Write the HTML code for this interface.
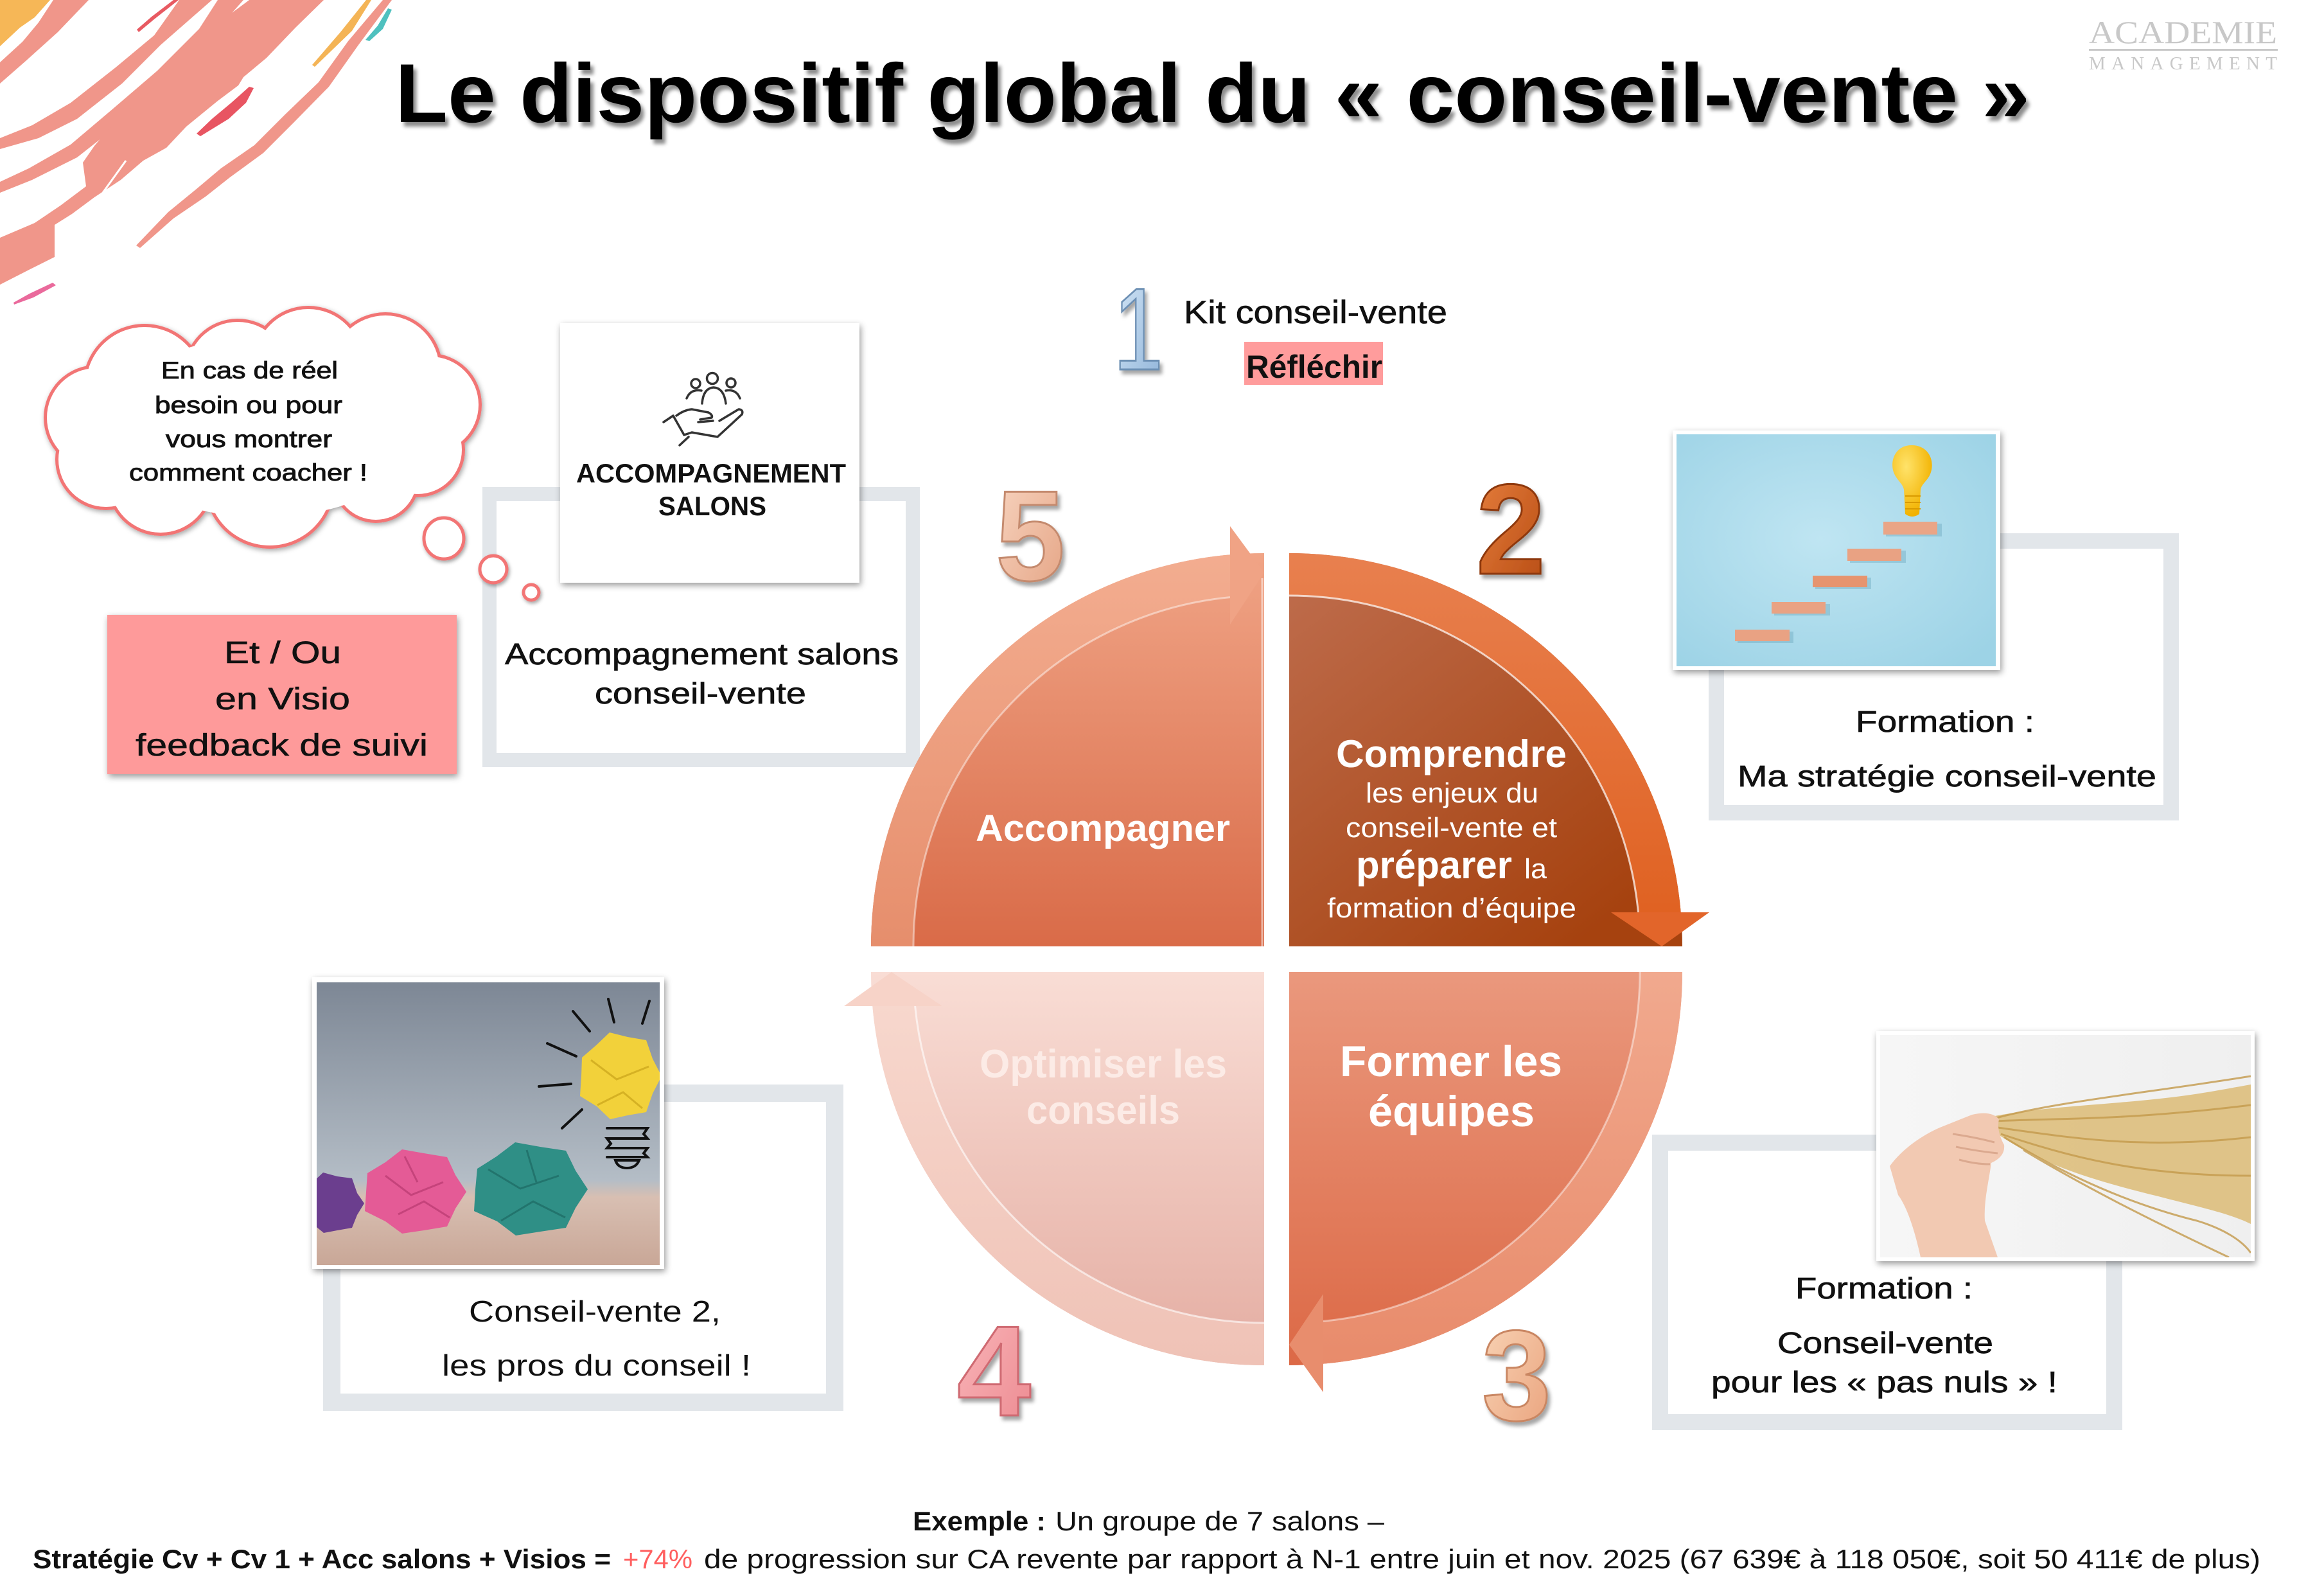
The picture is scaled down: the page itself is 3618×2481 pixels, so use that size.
<!DOCTYPE html>
<html><head><meta charset="utf-8">
<style>
html,body{margin:0;padding:0;background:#fff;}
svg{display:block;}
text{font-family:"Liberation Sans",sans-serif;}
</style></head><body>
<svg xmlns="http://www.w3.org/2000/svg" width="3618" height="2481" viewBox="0 0 3618 2481">
<defs>
  <filter id="tshadow" x="-5%" y="-20%" width="110%" height="150%"><feDropShadow dx="5" dy="7" stdDeviation="3" flood-color="#000" flood-opacity="0.45"/></filter>
  <filter id="boxsh" x="-10%" y="-10%" width="120%" height="125%"><feDropShadow dx="2" dy="4" stdDeviation="5" flood-color="#000" flood-opacity="0.4"/></filter>
  <filter id="cloudsh" x="-10%" y="-10%" width="120%" height="125%"><feDropShadow dx="2" dy="3" stdDeviation="4" flood-color="#000" flood-opacity="0.35"/></filter>
  <filter id="bubsh" x="-50%" y="-50%" width="200%" height="200%"><feDropShadow dx="2" dy="3" stdDeviation="3" flood-color="#000" flood-opacity="0.35"/></filter>
  <filter id="numsh" x="-20%" y="-20%" width="150%" height="150%"><feDropShadow dx="4" dy="6" stdDeviation="3" flood-color="#000" flood-opacity="0.35"/></filter>

  <linearGradient id="gTL" gradientUnits="userSpaceOnUse" x1="0" y1="861" x2="0" y2="1473"><stop offset="0" stop-color="#f0a486"/><stop offset="1" stop-color="#d96b48"/></linearGradient>
  <linearGradient id="gTLb" gradientUnits="userSpaceOnUse" x1="0" y1="861" x2="0" y2="1473"><stop offset="0" stop-color="#f3ad90"/><stop offset="1" stop-color="#e68e6c"/></linearGradient>
  <linearGradient id="gTR" gradientUnits="userSpaceOnUse" x1="2007" y1="900" x2="2450" y2="1473"><stop offset="0" stop-color="#be6c4c"/><stop offset="1" stop-color="#a6420f"/></linearGradient>
  <linearGradient id="gTRb" gradientUnits="userSpaceOnUse" x1="0" y1="861" x2="0" y2="1473"><stop offset="0" stop-color="#e8804f"/><stop offset="1" stop-color="#df5f1e"/></linearGradient>
  <linearGradient id="gBR" gradientUnits="userSpaceOnUse" x1="0" y1="1513" x2="0" y2="2125"><stop offset="0" stop-color="#ea987d"/><stop offset="1" stop-color="#dc6946"/></linearGradient>
  <linearGradient id="gBRb" gradientUnits="userSpaceOnUse" x1="0" y1="1513" x2="0" y2="2125"><stop offset="0" stop-color="#f1a98e"/><stop offset="1" stop-color="#e88b6b"/></linearGradient>
  <linearGradient id="gBL" gradientUnits="userSpaceOnUse" x1="0" y1="1513" x2="0" y2="2125"><stop offset="0" stop-color="#f9ddd5"/><stop offset="1" stop-color="#e4ada2"/></linearGradient>
  <linearGradient id="gBLb" gradientUnits="userSpaceOnUse" x1="0" y1="1513" x2="0" y2="2125"><stop offset="0" stop-color="#f8d9cf"/><stop offset="1" stop-color="#efc2b6"/></linearGradient>

  <linearGradient id="n1" x1="0" y1="0" x2="1" y2="1"><stop offset="0" stop-color="#d8e9f8"/><stop offset="1" stop-color="#8db2d8"/></linearGradient>
  <linearGradient id="n2" x1="0" y1="0" x2="1" y2="1"><stop offset="0" stop-color="#e8803e"/><stop offset="1" stop-color="#b54a12"/></linearGradient>
  <linearGradient id="n3" x1="0" y1="0" x2="1" y2="1"><stop offset="0" stop-color="#f9d6b8"/><stop offset="1" stop-color="#e9a07a"/></linearGradient>
  <linearGradient id="n4" x1="0" y1="0" x2="1" y2="1"><stop offset="0" stop-color="#fab8bb"/><stop offset="1" stop-color="#ec8990"/></linearGradient>
  <linearGradient id="n5" x1="0" y1="0" x2="1" y2="1"><stop offset="0" stop-color="#f8d6c2"/><stop offset="1" stop-color="#e4a282"/></linearGradient>

  <radialGradient id="sky" cx="0.45" cy="0.45" r="0.7"><stop offset="0" stop-color="#bfe5f2"/><stop offset="1" stop-color="#9dd3e6"/></radialGradient>
  <linearGradient id="paperbg" x1="0" y1="0" x2="0" y2="1"><stop offset="0" stop-color="#7d8795"/><stop offset="0.7" stop-color="#b4bdc6"/><stop offset="0.76" stop-color="#d8bfb2"/><stop offset="1" stop-color="#c9a797"/></linearGradient>
  <radialGradient id="bulbg" cx="0.35" cy="0.3" r="0.7"><stop offset="0" stop-color="#ffe36a"/><stop offset="1" stop-color="#f2b200"/></radialGradient>
  <linearGradient id="hairbg" x1="0" y1="0" x2="1" y2="0"><stop offset="0" stop-color="#f6f6f6"/><stop offset="1" stop-color="#efefef"/></linearGradient>

  <clipPath id="cpStair"><rect x="2610" y="676" width="497" height="361"/></clipPath>
  <clipPath id="cpPaper"><rect x="493" y="1529" width="534" height="440"/></clipPath>
  <clipPath id="cpHair"><rect x="2927" y="1611" width="577" height="346"/></clipPath>
</defs>

<rect width="3618" height="2481" fill="#fff"/>

<!-- decorative brush strokes -->
<g>
  <polygon fill="#f6b757" points="0,0 78,0 54,27 31,43 0,72"/>
  <polygon fill="#f0968a" points="83,0 138,0 90,50 40,95 0,130 0,97 35,65 60,35"/>
  <polygon fill="#f0968a" points="279,0 330,0 250,70 190,130 120,185 60,215 0,232 0,215 50,195 110,160 180,105 240,55"/>
  <polygon fill="#f0968a" points="339,0 379,0 330,55 260,125 190,190 120,245 50,280 0,300 0,283 45,262 110,225 175,170 245,110 310,45"/>
  <polygon fill="#f0968a" points="388,0 504,0 460,43 415,90 379,120 371,133 339,157 290,197 259,230 223,250 188,280 147,307 112,333 85,350 85,400 45,420 0,443 0,370 54,347 94,320 134,290 129,253 147,227 170,200 205,167 250,127 263,107 321,57 330,43"/>
  <polyline fill="none" stroke="#fff" stroke-width="3" points="196,250 160,300 125,345"/>
  <polygon fill="#f0968a" points="596,0 610,0 558,70 512,135 458,190 410,238 358,276 320,306 270,340 218,386 212,382 262,330 306,294 344,262 396,226 444,178 496,128 542,64"/>
  <polygon fill="#e85a62" points="270,0 278,0 240,30 216,50 213,46 236,26"/>
  <polygon fill="#e85562" points="388,135 395,137 383,160 356,185 312,212 306,208 330,185 360,160"/>
  <polygon fill="#f4b456" points="570,0 578,0 548,48 490,104 486,101 530,50"/>
  <polygon fill="#4fc1bf" points="604,13 610,15 596,45 575,64 569,62 588,40"/>
  <polygon fill="#ea6a9c" points="82,440 87,444 52,463 22,474 21,471 46,457"/>
</g>

<!-- title -->
<text x="615" y="190" font-size="130" font-weight="bold" fill="#000" textLength="2545" lengthAdjust="spacingAndGlyphs" filter="url(#tshadow)">Le dispositif global du « conseil-vente »</text>

<!-- logo -->
<g fill="#c8c8c8">
  <text x="3252" y="67" font-size="50" textLength="293" lengthAdjust="spacingAndGlyphs" style="font-family:'Liberation Serif',serif">ACADEMIE</text>
  <rect x="3252" y="76" width="294" height="3"/>
  <text x="3252" y="108" font-size="29" textLength="293" lengthAdjust="spacing" style="font-family:'Liberation Serif',serif">MANAGEMENT</text>
</g>

<!-- accompagnement frame (drawn before bubbles) -->
<rect x="762" y="769" width="659" height="414" fill="#fff" stroke="#e2e6ea" stroke-width="22"/>

<!-- cloud -->
<g filter="url(#cloudsh)">
  <g fill="#f27474">
    <circle cx="225" cy="600" r="96"/><circle cx="370" cy="580" r="84"/><circle cx="480" cy="565" r="89"/>
    <circle cx="600" cy="575" r="89"/><circle cx="670" cy="630" r="80"/><circle cx="650" cy="700" r="74"/>
    <circle cx="585" cy="745" r="69"/><circle cx="420" cy="752" r="102"/><circle cx="250" cy="750" r="84"/>
    <circle cx="165" cy="715" r="79"/><circle cx="150" cy="650" r="82"/>
  </g>
  <g fill="#fff">
    <circle cx="225" cy="600" r="91"/><circle cx="370" cy="580" r="79"/><circle cx="480" cy="565" r="84"/>
    <circle cx="600" cy="575" r="84"/><circle cx="670" cy="630" r="75"/><circle cx="650" cy="700" r="69"/>
    <circle cx="585" cy="745" r="64"/><circle cx="420" cy="752" r="97"/><circle cx="250" cy="750" r="79"/>
    <circle cx="165" cy="715" r="74"/><circle cx="150" cy="650" r="77"/>
    <ellipse cx="410" cy="665" rx="250" ry="140"/>
  </g>
</g>
<g filter="url(#bubsh)" fill="#fff" stroke="#f27474" stroke-width="5">
  <ellipse cx="691" cy="838" rx="31" ry="32"/>
  <circle cx="768" cy="886" r="21"/>
  <circle cx="827" cy="922" r="12"/>
</g>
<g font-size="37" fill="#111" stroke="#111" stroke-width="0.9">
  <text x="251" y="589" textLength="275" lengthAdjust="spacingAndGlyphs">En cas de réel</text>
  <text x="241" y="643" textLength="292" lengthAdjust="spacingAndGlyphs">besoin ou pour</text>
  <text x="258" y="696" textLength="259" lengthAdjust="spacingAndGlyphs">vous montrer</text>
  <text x="201" y="748" textLength="371" lengthAdjust="spacingAndGlyphs">comment coacher !</text>
</g>

<!-- pink box -->
<rect x="167" y="957" width="544" height="248" fill="#fe9a9a" filter="url(#boxsh)"/>
<g font-size="48" fill="#111" stroke="#111" stroke-width="0.6">
  <text x="349" y="1032" textLength="182" lengthAdjust="spacingAndGlyphs">Et / Ou</text>
  <text x="335" y="1104" textLength="210" lengthAdjust="spacingAndGlyphs">en Visio</text>
  <text x="211" y="1176" textLength="455" lengthAdjust="spacingAndGlyphs">feedback de suivi</text>
</g>

<!-- accompagnement box -->
<rect x="872" y="503" width="466" height="404" fill="#fff" filter="url(#boxsh)"/>
<g fill="none" stroke="#333" stroke-width="3.5" stroke-linecap="round" stroke-linejoin="round">
  <circle cx="1083" cy="597" r="7"/><circle cx="1109" cy="589" r="8.5"/><circle cx="1138" cy="596" r="7"/>
  <path d="M1069 620 Q1075 605 1092 608"/><path d="M1152 620 Q1146 605 1130 608"/>
  <path d="M1093 628 Q1095 604 1111 603 Q1127 604 1130 628"/>
  <path d="M1033 657 L1048 647 L1065 677"/><path d="M1072 680 L1058 693"/>
  <path d="M1053 647 Q1065 638 1077 637 L1103 642 Q1110 646 1108 650 L1090 653"/>
  <path d="M1087 657 L1110 655"/>
  <path d="M1120 655 L1150 637 Q1158 638 1155 645 L1117 680 L1077 673 L1065 677"/>
</g>
<g font-size="42" font-weight="bold" fill="#111">
  <text x="897" y="751" textLength="420" lengthAdjust="spacingAndGlyphs">ACCOMPAGNEMENT</text>
  <text x="1025" y="802" textLength="168" lengthAdjust="spacingAndGlyphs">SALONS</text>
</g>
<g font-size="46" fill="#111" stroke="#111" stroke-width="0.7">
  <text x="786" y="1034" textLength="613" lengthAdjust="spacingAndGlyphs">Accompagnement salons</text>
  <text x="926" y="1095" textLength="329" lengthAdjust="spacingAndGlyphs">conseil-vente</text>
</g>

<!-- Kit conseil-vente -->
<text x="1733" y="575" font-size="182" fill="url(#n1)" stroke="#6d90b4" stroke-width="3" textLength="78" lengthAdjust="spacingAndGlyphs" filter="url(#numsh)">1</text>
<text x="1843" y="503" font-size="50" fill="#111" stroke="#111" stroke-width="0.7" textLength="410" lengthAdjust="spacingAndGlyphs">Kit conseil-vente</text>
<rect x="1937" y="532" width="216" height="67" fill="#ff9c9c"/>
<text x="1940" y="588" font-size="50" font-weight="bold" fill="#111" textLength="212" lengthAdjust="spacingAndGlyphs">Réfléchir</text>

<!-- staircase frame + image -->
<rect x="2672" y="842" width="708" height="423" fill="#fff" stroke="#e2e6ea" stroke-width="24"/>
<rect x="2604" y="670" width="510" height="373" fill="#fff" filter="url(#boxsh)"/>
<g clip-path="url(#cpStair)">
  <rect x="2610" y="676" width="497" height="361" fill="url(#sky)"/>
  <g>
    <rect x="2705" y="983" width="87" height="18" fill="#5f9fb5" opacity="0.35"/>
    <rect x="2701" y="980" width="85" height="18" fill="#e9a283"/>
    <rect x="2762" y="940" width="87" height="18" fill="#5f9fb5" opacity="0.35"/>
    <rect x="2758" y="937" width="84" height="18" fill="#e9a283"/>
    <rect x="2826" y="899" width="87" height="18" fill="#5f9fb5" opacity="0.35"/>
    <rect x="2822" y="896" width="85" height="18" fill="#e6946f"/>
    <rect x="2880" y="857" width="87" height="19" fill="#5f9fb5" opacity="0.35"/>
    <rect x="2876" y="854" width="84" height="19" fill="#e9a283"/>
    <rect x="2936" y="815" width="87" height="20" fill="#5f9fb5" opacity="0.35"/>
    <rect x="2932" y="812" width="84" height="20" fill="#eaa586"/>
  </g>
  <path d="M2976 693 C2950 693 2942 718 2948 735 C2953 748 2962 752 2964 762 L2966 800 Q2977 808 2988 800 L2990 762 C2992 752 3002 748 3006 735 C3012 716 3002 693 2976 693 Z" fill="url(#bulbg)"/>
  <g stroke="#d99a00" stroke-width="2"><line x1="2966" y1="772" x2="2990" y2="772"/><line x1="2966" y1="782" x2="2990" y2="782"/><line x1="2966" y1="792" x2="2990" y2="792"/></g>
</g>
<g font-size="46" fill="#111" stroke="#111" stroke-width="0.7">
  <text x="2889" y="1139" textLength="278" lengthAdjust="spacingAndGlyphs">Formation :</text>
  <text x="2705" y="1224" textLength="652" lengthAdjust="spacingAndGlyphs">Ma stratégie conseil-vente</text>
</g>

<!-- crumpled paper frame + image -->
<rect x="516.5" y="1701.5" width="783" height="481" fill="#fff" stroke="#e2e6ea" stroke-width="27"/>
<rect x="486" y="1521" width="548" height="454" fill="#fff" filter="url(#boxsh)"/>
<g clip-path="url(#cpPaper)">
  <rect x="493" y="1529" width="534" height="440" fill="url(#paperbg)"/>
  <polygon fill="#6b3e8e" points="567,1873 556,1891 548,1911 525,1915 504,1919 487,1905 461,1894 468,1873 470,1851 487,1840 503,1825 525,1831 548,1834 556,1857"/>
  <polygon fill="#e45b96" points="726,1855 709,1881 696,1909 660,1915 626,1920 600,1901 568,1885 570,1855 572,1826 600,1809 626,1789 660,1795 696,1801 709,1829"/>
  <g stroke="#b83a70" stroke-width="3" fill="none" opacity="0.7"><path d="M600 1830 L640 1860 L690 1840"/><path d="M620 1890 L660 1870 L700 1895"/><path d="M630 1800 L650 1840"/></g>
  <polygon fill="#2f8f86" points="915,1851 896,1880 881,1911 841,1917 803,1923 774,1901 738,1885 740,1851 743,1819 773,1800 802,1778 841,1785 881,1791 896,1822"/>
  <g stroke="#1d6a63" stroke-width="3" fill="none" opacity="0.7"><path d="M760 1820 L810 1850 L870 1830"/><path d="M780 1900 L830 1870 L880 1895"/><path d="M820 1790 L835 1840"/></g>
  <polygon fill="#f2d13a" points="1030,1675 1016,1702 1006,1731 977,1736 950,1742 929,1722 903,1706 905,1675 906,1646 928,1627 949,1607 977,1614 1006,1619 1016,1648"/>
  <g stroke="#c9a41a" stroke-width="3" fill="none" opacity="0.7"><path d="M920 1650 L960 1680 L1010 1660"/><path d="M930 1720 L970 1700 L1000 1725"/></g>
  <g stroke="#111" stroke-width="4" stroke-linecap="round" fill="none">
    <line x1="892" y1="1574" x2="918" y2="1605"/><line x1="947" y1="1555" x2="956" y2="1591"/>
    <line x1="1011" y1="1558" x2="1000" y2="1593"/><line x1="852" y1="1624" x2="897" y2="1644"/>
    <line x1="839" y1="1691" x2="889" y2="1687"/><line x1="875" y1="1756" x2="906" y2="1727"/>
    <path d="M945 1756 L1008 1756 L1002 1765 L1008 1772 L945 1772 L951 1780 L945 1787 L1008 1787 L1002 1795 L1008 1801 L945 1801"/>
    <path d="M958 1806 L995 1806 Q990 1818 976 1818 Q962 1818 958 1806 Z"/>
  </g>
</g>
<g font-size="46" fill="#111">
  <text x="730" y="2057" textLength="392" lengthAdjust="spacingAndGlyphs">Conseil-vente 2,</text>
  <text x="688" y="2141" textLength="481" lengthAdjust="spacingAndGlyphs">les pros du conseil !</text>
</g>

<!-- hair frame + image -->
<rect x="2584.5" y="1778.5" width="707" height="435" fill="#fff" stroke="#e2e6ea" stroke-width="25"/>
<rect x="2921" y="1605" width="589" height="358" fill="#fff" filter="url(#boxsh)"/>
<g clip-path="url(#cpHair)">
  <rect x="2927" y="1611" width="577" height="346" fill="url(#hairbg)"/>
  <path d="M3100 1738 C3180 1722 3280 1720 3380 1708 C3430 1702 3470 1694 3504 1688 L3504 1905 C3470 1888 3420 1878 3360 1862 C3290 1845 3220 1825 3170 1800 C3140 1785 3120 1772 3105 1762 Z" fill="#dcbb75" opacity="0.85"/>
  <g fill="none" stroke="#c49a4c" stroke-width="3" opacity="0.8">
    <path d="M3105 1745 C3200 1740 3300 1745 3504 1720"/>
    <path d="M3110 1755 C3220 1770 3330 1790 3504 1770"/>
    <path d="M3115 1765 C3220 1800 3330 1830 3504 1830"/>
    <path d="M3120 1770 C3200 1820 3300 1870 3420 1900 C3460 1912 3490 1930 3504 1950"/>
    <path d="M3150 1790 C3250 1850 3350 1900 3470 1957"/>
    <path d="M3108 1740 C3200 1715 3350 1700 3504 1675"/>
  </g>
  <path d="M2942 1815 C2960 1790 2990 1768 3020 1755 L3070 1735 Q3100 1728 3112 1742 Q3108 1760 3120 1782 Q3122 1800 3100 1810 C3096 1840 3088 1870 3090 1900 L3110 1957 L2990 1957 C2982 1920 2970 1880 2955 1860 Z" fill="#f2c9b2"/>
  <g fill="none" stroke="#dba98f" stroke-width="3"><path d="M3040 1765 Q3075 1770 3105 1778"/><path d="M3045 1785 Q3080 1792 3110 1795"/><path d="M3050 1805 Q3075 1812 3098 1812"/></g>
</g>
<g font-size="46" fill="#111" stroke="#111" stroke-width="0.7">
  <text x="2795" y="2021" textLength="276" lengthAdjust="spacingAndGlyphs">Formation :</text>
  <text x="2767" y="2106" textLength="336" lengthAdjust="spacingAndGlyphs">Conseil-vente</text>
  <text x="2664" y="2167" textLength="539" lengthAdjust="spacingAndGlyphs">pour les « pas nuls » !</text>
</g>

<!-- CYCLE DIAGRAM -->
<path d="M1968 1473 L1356 1473 A612 612 0 0 1 1968 861 Z" fill="url(#gTL)"/>
<path d="M1356 1473 A612 612 0 0 1 1915 863.3 L1915 929.6 A546 546 0 0 0 1422 1473 Z" fill="url(#gTLb)"/>
<path d="M1422 1473 A546 546 0 0 1 1915 929.6" fill="none" stroke="#fff" stroke-opacity="0.45" stroke-width="3"/>
<polygon points="1915,819 1968,891 1915,972" fill="#f0a385"/>
<line x1="1965" y1="900" x2="1965" y2="1473" stroke="#fff" stroke-opacity="0.5" stroke-width="3"/>

<path d="M2007 1473 L2007 861 A612 612 0 0 1 2619 1473 Z" fill="url(#gTR)"/>
<path d="M2007 861 A612 612 0 0 1 2616.7 1420 L2550.4 1420 A546 546 0 0 0 2007 927 Z" fill="url(#gTRb)"/>
<path d="M2007 927 A546 546 0 0 1 2550.4 1420" fill="none" stroke="#fff" stroke-opacity="0.7" stroke-width="3"/>
<polygon points="2508,1420 2661,1420 2587,1473" fill="#e2652a"/>

<path d="M2007 1513 L2619 1513 A612 612 0 0 1 2007 2125 Z" fill="url(#gBR)"/>
<path d="M2619 1513 A612 612 0 0 1 2060 2122.7 L2060 2056.4 A546 546 0 0 0 2553 1513 Z" fill="url(#gBRb)"/>
<path d="M2553 1513 A546 546 0 0 1 2060 2056.4" fill="none" stroke="#fff" stroke-opacity="0.45" stroke-width="3"/>
<polygon points="2060,2014 2060,2167 2007,2093" fill="#e88d6d"/>

<path d="M1968 1513 L1968 2125 A612 612 0 0 1 1356 1513 Z" fill="url(#gBL)"/>
<path d="M1968 2125 A612 612 0 0 1 1358.3 1566 L1424.6 1566 A546 546 0 0 0 1968 2059 Z" fill="url(#gBLb)"/>
<path d="M1968 2059 A546 546 0 0 1 1424.6 1566" fill="none" stroke="#fff" stroke-opacity="0.6" stroke-width="3"/>
<polygon points="1314,1566 1467,1566 1388,1513" fill="#f7d3c8"/>

<text x="1519" y="1309" font-size="58" font-weight="bold" fill="#fff" textLength="396" lengthAdjust="spacingAndGlyphs">Accompagner</text>
<g fill="#fff">
  <text x="2080" y="1194" font-size="60" font-weight="bold" textLength="359" lengthAdjust="spacingAndGlyphs">Comprendre</text>
  <text x="2126" y="1249" font-size="44" textLength="269" lengthAdjust="spacingAndGlyphs">les enjeux du</text>
  <text x="2095" y="1303" font-size="44" textLength="329" lengthAdjust="spacingAndGlyphs">conseil-vente et</text>
  <text x="2111" y="1367" font-size="60" font-weight="bold" textLength="243" lengthAdjust="spacingAndGlyphs">préparer</text>
  <text x="2373" y="1367" font-size="44" textLength="35" lengthAdjust="spacingAndGlyphs">la</text>
  <text x="2066" y="1428" font-size="44" textLength="388" lengthAdjust="spacingAndGlyphs">formation d’équipe</text>
  <text x="2086" y="1675" font-size="68" font-weight="bold" textLength="346" lengthAdjust="spacingAndGlyphs">Former les</text>
  <text x="2130" y="1753" font-size="68" font-weight="bold" textLength="259" lengthAdjust="spacingAndGlyphs">équipes</text>
</g>
<g fill="#fcebe6">
  <text x="1525" y="1677" font-size="62" font-weight="bold" textLength="385" lengthAdjust="spacingAndGlyphs">Optimiser les</text>
  <text x="1598" y="1749" font-size="62" font-weight="bold" textLength="239" lengthAdjust="spacingAndGlyphs">conseils</text>
</g>

<g font-weight="bold" font-size="200" stroke-width="3" filter="url(#numsh)">
  <text x="1550" y="903" fill="url(#n5)" stroke="#c48a6e" textLength="108" lengthAdjust="spacingAndGlyphs">5</text>
  <text x="2298" y="893" fill="url(#n2)" stroke="#8e3808" textLength="108" lengthAdjust="spacingAndGlyphs">2</text>
  <text x="1490" y="2203" fill="url(#n4)" stroke="#cf6a72" textLength="115" lengthAdjust="spacingAndGlyphs">4</text>
  <text x="2307" y="2210" fill="url(#n3)" stroke="#c98662" textLength="108" lengthAdjust="spacingAndGlyphs">3</text>
</g>

<g font-size="42" fill="#111">
  <text x="1421" y="2382" font-weight="bold" textLength="207" lengthAdjust="spacingAndGlyphs">Exemple :</text>
  <text x="1643" y="2382" textLength="512" lengthAdjust="spacingAndGlyphs">Un groupe de 7 salons –</text>
  <text x="51" y="2441" font-weight="bold" textLength="900" lengthAdjust="spacingAndGlyphs">Stratégie Cv + Cv 1 + Acc salons + Visios =</text>
  <text x="970" y="2441" fill="#ff5f5f" textLength="108" lengthAdjust="spacingAndGlyphs">+74%</text>
  <text x="1096" y="2441" textLength="2423" lengthAdjust="spacingAndGlyphs">de progression sur CA revente par rapport à N-1 entre juin et nov. 2025 (67 639€ à 118 050€, soit 50 411€ de plus)</text>
</g>
</svg>
</body></html>
